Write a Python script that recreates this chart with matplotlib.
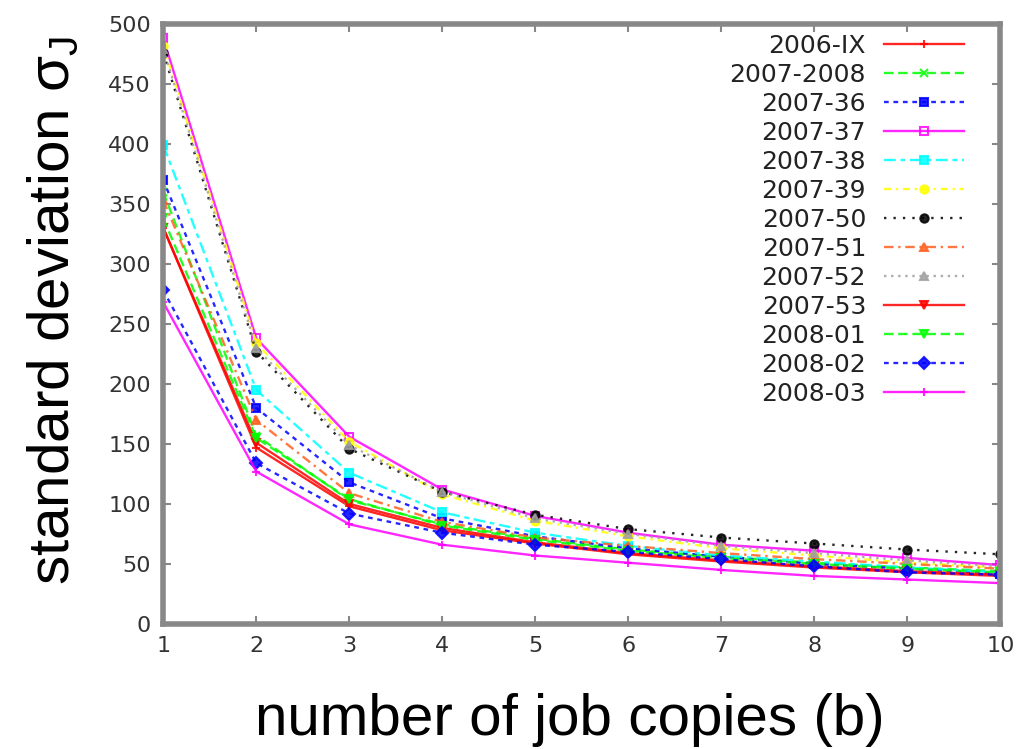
import matplotlib
matplotlib.use("Agg")
import matplotlib.pyplot as plt

copies = [1, 2, 3, 4, 5, 6, 7, 8, 9, 10]

labels = ["2006-IX", "2007-2008", "2007-36", "2007-37", "2007-38", "2007-39",
          "2007-50", "2007-51", "2007-52", "2007-53", "2008-01", "2008-02", "2008-03"]

sd_2006_ix = [330, 147, 98, 78, 67, 58, 52, 47, 43, 40]
sd_2007_2008 = [360, 157, 103, 83, 71, 62, 56, 51, 47, 44]
sd_2007_36 = [370, 180, 118, 88, 73, 63, 56, 50, 46, 42]
sd_2007_37 = [488, 238, 156, 112, 90, 76, 66, 61, 55, 49]
sd_2007_38 = [399, 195, 126, 93, 76, 65, 57, 52, 47, 43]
sd_2007_39 = [482, 234, 152, 108, 86, 73, 63, 57, 51, 47]
sd_2007_50 = [476, 227, 146, 110, 91, 79, 72, 67, 62, 58]
sd_2007_51 = [353, 170, 109, 85, 72, 65, 59, 54, 50, 46]
sd_2007_52 = [479, 230, 149, 110, 88, 75, 65, 59, 53, 48]
sd_2007_53 = [330, 151, 100, 80, 68, 59, 53, 48, 44, 41]
sd_2008_01 = [338, 155, 104, 82, 70, 61, 55, 50, 46, 43]
sd_2008_02 = [278, 134, 92, 76, 66, 60, 54, 48, 43, 41]
sd_2008_03 = [268, 127, 83, 66, 57, 51, 45, 40, 37, 34]

series = [sd_2006_ix, sd_2007_2008, sd_2007_36, sd_2007_37, sd_2007_38, sd_2007_39,
          sd_2007_50, sd_2007_51, sd_2007_52, sd_2007_53, sd_2008_01, sd_2008_02, sd_2008_03]

# gnuplot-ish styles: colour, dash pattern, marker, marker filled
styles = [
    ("#ff0000", "-", "+", True),
    ("#00ff00", (0, (4, 2)), "x", True),
    ("#0000ff", (0, (2, 2)), "s", True),
    ("#ff00ff", "-", "s", False),
    ("#00ffff", (0, (5, 2, 2, 2)), "s", True),
    ("#ffff00", (0, (3, 2, 1, 2)), "o", True),
    ("#000000", (0, (1, 3)), "o", True),
    ("#ff6020", (0, (4, 2, 1, 2)), "^", True),
    ("#a0a0a0", (0, (1, 2)), "^", True),
    ("#ff0000", "-", "v", True),
    ("#00ff00", (0, (4, 2)), "v", True),
    ("#0000ff", (0, (2, 2)), "D", True),
    ("#ff00ff", "-", "+", True),
]

plt.rcParams["font.family"] = ["DejaVu Sans"]

fig = plt.figure(figsize=(10.27, 7.49), dpi=100)
ax = fig.add_axes([0.159, 0.167, 0.815, 0.801])

for vals, lab, (col, ls, mk, filled) in zip(series, labels, styles):
    ax.plot(copies, vals, color=col, linestyle=ls, linewidth=1.7, marker=mk,
            markersize=6, markeredgewidth=1.5,
            markerfacecolor=col if filled else "none", markeredgecolor=col,
            label=lab, alpha=0.85)

ax.set_xlim(1, 10)
ax.set_ylim(0, 500)
ax.set_xticks(copies)
ax.set_yticks(range(0, 501, 50))
ax.tick_params(direction="in", length=6, width=1.5, color="#888888",
               labelsize=16, labelcolor="#333333", top=True, right=True, pad=9)
for sp in ax.spines.values():
    sp.set_color("#888888")
    sp.set_linewidth(4)

ax.set_xlabel("number of job copies (b)", fontsize=42, family="Liberation Sans")
ax.set_ylabel(r"standard deviation $\mathregular{\sigma_J}$", fontsize=42,
              family="Liberation Sans")
ax.xaxis.set_label_coords(0.486, -0.115)
ax.yaxis.set_label_coords(-0.098, 0.522)

leg = ax.legend(loc="upper right", bbox_to_anchor=(0.968, 1.0), frameon=False,
                markerfirst=False, fontsize=18, handlelength=3.2, labelspacing=0.2,
                borderaxespad=0.0, handletextpad=0.7)
for t in leg.get_texts():
    t.set_color("#222222")

fig.savefig("out.png", dpi=100)
